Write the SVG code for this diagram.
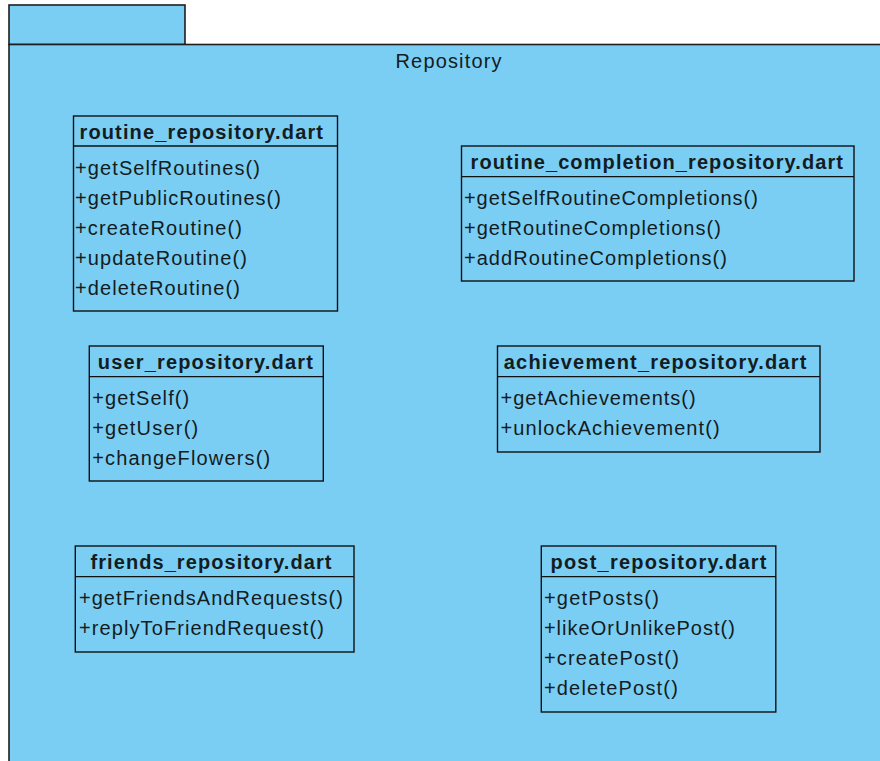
<svg xmlns="http://www.w3.org/2000/svg" width="880" height="761" viewBox="0 0 880 761">
  <style>
    .pkg { fill: #7ACEF4; stroke: #1e1e1e; stroke-width: 1.6; }
    .cls { fill: #7ACEF4; stroke: #111; stroke-width: 1.4; }
    .sep { stroke: #111; stroke-width: 1.3; fill: none; }
    text { font-family: "Liberation Sans", Arial, sans-serif; font-size: 20px; fill: #141c22; }
    .title { font-weight: bold; }
  </style>
  <rect width="880" height="761" fill="#ffffff"/>

  <!-- package: Repository -->
  <g id="package-repository">
    <rect class="pkg" x="9" y="5" width="176" height="39.5"/>
    <rect class="pkg" x="9" y="44.5" width="890" height="740"/>
    <text x="395.5" y="68" textLength="106" lengthAdjust="spacing">Repository</text>
  </g>

  <!-- classes -->
  <g id="routine-repository">
    <rect class="cls" x="73.5" y="116" width="264" height="195"/>
    <line class="sep" x1="73.5" y1="146" x2="337.5" y2="146"/>
    <text class="title" x="79.5" y="138.7" textLength="243.5" lengthAdjust="spacing">routine_repository.dart</text>
    <text x="75" y="174.7" textLength="185" lengthAdjust="spacing">+getSelfRoutines()</text>
    <text x="75" y="204.7" textLength="206" lengthAdjust="spacing">+getPublicRoutines()</text>
    <text x="75" y="234.7" textLength="167" lengthAdjust="spacing">+createRoutine()</text>
    <text x="75" y="264.7" textLength="172" lengthAdjust="spacing">+updateRoutine()</text>
    <text x="75" y="294.7" textLength="165" lengthAdjust="spacing">+deleteRoutine()</text>
  </g>

  <g id="routine-completion-repository">
    <rect class="cls" x="461.5" y="146" width="392.5" height="135"/>
    <line class="sep" x1="461.5" y1="176.7" x2="854" y2="176.7"/>
    <text class="title" x="470.5" y="168.7" textLength="372.5" lengthAdjust="spacing">routine_completion_repository.dart</text>
    <text x="463.9" y="205.4" textLength="294" lengthAdjust="spacing">+getSelfRoutineCompletions()</text>
    <text x="463.9" y="235.4" textLength="257" lengthAdjust="spacing">+getRoutineCompletions()</text>
    <text x="463.9" y="265.4" textLength="263" lengthAdjust="spacing">+addRoutineCompletions()</text>
  </g>

  <g id="user-repository">
    <rect class="cls" x="89.3" y="346" width="234" height="135"/>
    <line class="sep" x1="89.3" y1="376.7" x2="323.3" y2="376.7"/>
    <text class="title" x="97.8" y="368.7" textLength="215" lengthAdjust="spacing">user_repository.dart</text>
    <text x="92.2" y="405.4" textLength="97" lengthAdjust="spacing">+getSelf()</text>
    <text x="92.2" y="435.4" textLength="106" lengthAdjust="spacing">+getUser()</text>
    <text x="92.2" y="465.4" textLength="178" lengthAdjust="spacing">+changeFlowers()</text>
  </g>

  <g id="achievement-repository">
    <rect class="cls" x="497.5" y="346" width="322.5" height="106"/>
    <line class="sep" x1="497.5" y1="376.7" x2="820" y2="376.7"/>
    <text class="title" x="503.8" y="368.7" textLength="302.5" lengthAdjust="spacing">achievement_repository.dart</text>
    <text x="500.6" y="405.4" textLength="195" lengthAdjust="spacing">+getAchievements()</text>
    <text x="500.6" y="435.4" textLength="219" lengthAdjust="spacing">+unlockAchievement()</text>
  </g>

  <g id="friends-repository">
    <rect class="cls" x="75.3" y="546" width="278.7" height="106"/>
    <line class="sep" x1="75.3" y1="576.7" x2="354" y2="576.7"/>
    <text class="title" x="90.5" y="568.7" textLength="241" lengthAdjust="spacing">friends_repository.dart</text>
    <text x="78.9" y="605.4" textLength="264" lengthAdjust="spacing">+getFriendsAndRequests()</text>
    <text x="78.9" y="635.4" textLength="245" lengthAdjust="spacing">+replyToFriendRequest()</text>
  </g>

  <g id="post-repository">
    <rect class="cls" x="541.3" y="546" width="234.5" height="166"/>
    <line class="sep" x1="541.3" y1="576.7" x2="775.8" y2="576.7"/>
    <text class="title" x="550.5" y="568.7" textLength="216" lengthAdjust="spacing">post_repository.dart</text>
    <text x="543.9" y="605.4" textLength="115" lengthAdjust="spacing">+getPosts()</text>
    <text x="543.9" y="635.4" textLength="191" lengthAdjust="spacing">+likeOrUnlikePost()</text>
    <text x="543.9" y="665.4" textLength="135" lengthAdjust="spacing">+createPost()</text>
    <text x="543.9" y="695.4" textLength="134" lengthAdjust="spacing">+deletePost()</text>
  </g>

  <!-- no connectors between the classes -->
  <g id="connectors"/>
</svg>
